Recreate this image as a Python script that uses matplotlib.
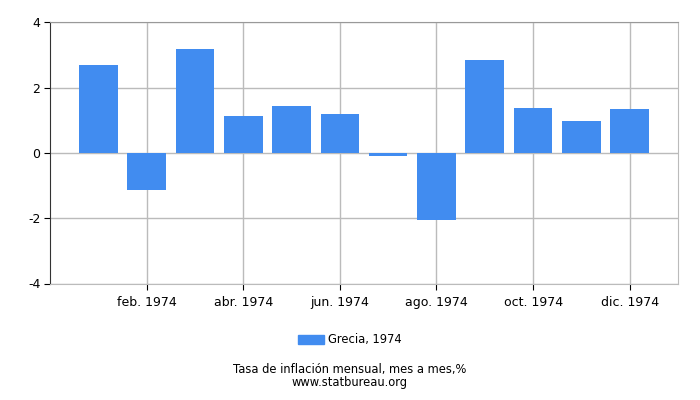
import matplotlib
matplotlib.use("Agg")
import matplotlib.pyplot as plt
from matplotlib.patches import Patch

months = ["ene. 1974", "feb. 1974", "mar. 1974", "abr. 1974", "may. 1974", "jun. 1974",
          "jul. 1974", "ago. 1974", "sep. 1974", "oct. 1974", "nov. 1974", "dic. 1974"]
values = [2.69, -1.13, 3.18, 1.13, 1.44, 1.19, -0.08, -2.07, 2.84, 1.38, 0.98, 1.35]
series_name = "Grecia, 1974"
title = "Tasa de inflación mensual, mes a mes,%"
source = "www.statbureau.org"
color = "#418cf0"

plt.rcParams['font.family'] = ['DejaVu Sans']
plt.rcParams['axes.unicode_minus'] = False
fig = plt.figure(figsize=(7, 4), dpi=100)
ax = fig.add_axes([50/700, 1-283.5/400, 628/700, (283.5-22.3)/400])
x = list(range(len(months)))
ax.bar(x, values, width=0.8, color=color, zorder=2)
ax.set_xlim(-1, 12)
ax.set_ylim(-4, 4)
ax.set_yticks([-4, -2, 0, 2, 4])
ax.set_xticks(x[1::2])
ax.set_xticklabels(months[1::2])
ax.grid(True, color="#bbbbbb", linewidth=1, zorder=0)
ax.set_axisbelow(True)
ax.spines["top"].set_color("#999999")
ax.spines["right"].set_color("#bbbbbb")
ax.spines["left"].set_color("#333333")
ax.spines["bottom"].set_color("#bbbbbb")
ax.tick_params(axis="both", labelsize=9, length=4, color="#000000", labelcolor="#000000")
ax.tick_params(axis="x", pad=5)
ax.tick_params(axis="y", pad=3)
fig.legend(handles=[Patch(color=color, label=series_name)], loc="center",
           bbox_to_anchor=(350/700, 1-340/400), frameon=False, fontsize=8.3,
           handlelength=2.2, handleheight=0.9, handletextpad=0.4)
fig.text(0.5, 1-376/400, title + "\n" + source, ha="center", va="center",
         fontsize=8.3, linespacing=0.95, multialignment="center")
fig.savefig("out.png", dpi=100)
